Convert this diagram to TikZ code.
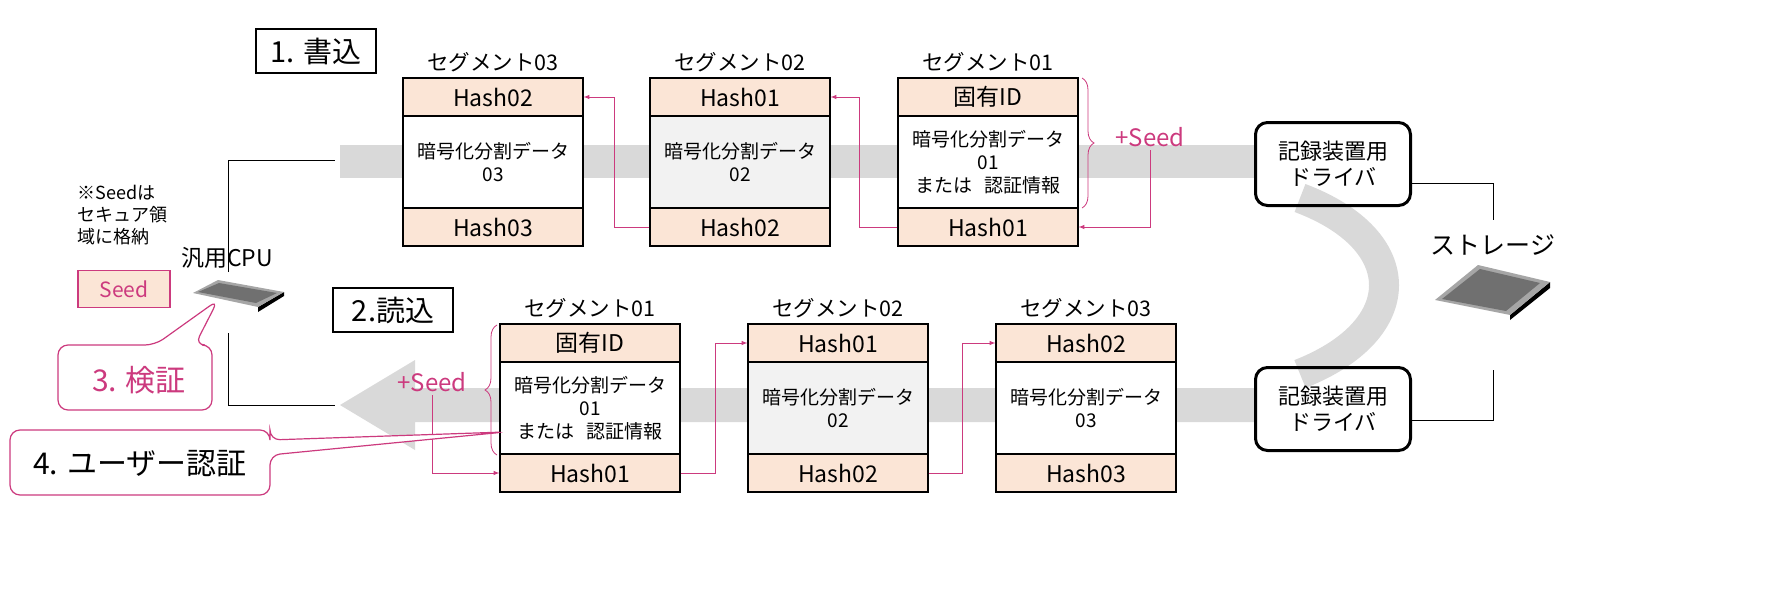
\documentclass[tikz,border=0pt]{standalone}
\usepackage{fontspec}
\setmainfont{Noto Sans CJK JP}
\usetikzlibrary{positioning, decorations.pathreplacing}

\definecolor{peach}{HTML}{FBE5D6}
\definecolor{rose}{HTML}{CC3A7E}
\definecolor{band}{HTML}{D9D9D9}
\definecolor{pale}{HTML}{F2F2F2}

\tikzset{
  cell/.style={draw=black, line width=1.2pt, minimum width=180pt, font=\fontsize{19}{23}\selectfont, inner sep=0pt, align=center},
  hashcell/.style={cell, fill=peach, minimum height=38pt, font=\fontsize{23}{25}\selectfont},
  datacell/.style={cell, fill=white, minimum height=92pt},
  title/.style={font=\fontsize{21.5}{24}\selectfont},
  phase/.style={draw=black, line width=1.5pt, minimum width=120pt, minimum height=44pt, font=\fontsize{29}{30}\selectfont},
  driver/.style={draw=black, line width=3pt, rounded corners=12pt, minimum width=155pt, minimum height=83pt, align=center, font=\fontsize{22}{26}\selectfont},
  link/.style={rose, line width=1pt, -latex},
  plus/.style={text=rose, font=\fontsize{24}{26}\selectfont},
  curly/.style={rose, line width=0.8pt, decorate, decoration={brace, amplitude=12pt}},
}

\begin{document}
\begin{tikzpicture}[x=1pt, y=-1pt]
\useasboundingbox (0,0) rectangle (1781,594);

% gray bands
\fill[band] (340,145) rectangle (1255,178);
\fill[band] (1255,388) -- (415,388) -- (415,360) -- (340,405) -- (415,450) -- (415,422) -- (1255,422) -- cycle;
\draw[band, line width=30pt] (1300,198) .. controls (1412,240) and (1412,330) .. (1300,374);

% write row
\node[phase] (write) at (316,51) {1. 書込};
\node[hashcell] (t3h) at (493,97) {Hash02};
\node[datacell] (t3d) at (493,162) {暗号化分割データ\\03};
\node[hashcell] (t3b) at (493,227) {Hash03};
\node[hashcell] (t2h) at (740,97) {Hash01};
\node[datacell, fill=pale] (t2d) at (740,162) {暗号化分割データ\\02};
\node[hashcell] (t2b) at (740,227) {Hash02};
\node[hashcell] (t1h) at (988,97) {固有ID};
\node[datacell] (t1d) at (988,162) {暗号化分割データ\\01\\または\ \ \ 認証情報};
\node[hashcell] (t1b) at (988,227) {Hash01};
\node[title, above=2pt of t3h] {セグメント03};
\node[title, above=2pt of t2h] {セグメント02};
\node[title, above=2pt of t1h] {セグメント01};

% read row
\node[phase] (read) at (393,310) {2.読込};
\node[hashcell] (b1h) at (590,343) {固有ID};
\node[datacell] (b1d) at (590,408) {暗号化分割データ\\01\\または\ \ \ 認証情報};
\node[hashcell] (b1b) at (590,473) {Hash01};
\node[hashcell] (b2h) at (838,343) {Hash01};
\node[datacell, fill=pale] (b2d) at (838,408) {暗号化分割データ\\02};
\node[hashcell] (b2b) at (838,473) {Hash02};
\node[hashcell] (b3h) at (1086,343) {Hash02};
\node[datacell] (b3d) at (1086,408) {暗号化分割データ\\03};
\node[hashcell] (b3b) at (1086,473) {Hash03};
\node[title, above=2pt of b1h] {セグメント01};
\node[title, above=2pt of b2h] {セグメント02};
\node[title, above=2pt of b3h] {セグメント03};

% hash chains
\node[plus] (seedT) at (1150,137) {+Seed};
\node[plus] (seedB) at (432,382) {+Seed};
\draw[curly] (1082,78) -- (1082,208);
\draw[curly] (497,455) -- (497,325);
\draw[link] (seedT.south) |- (t1b.east);
\draw[link] (t1b.west) -- ++(-38,0) |- (t2h.east);
\draw[link] (t2b.west) -- ++(-35,0) |- (t3h.east);
\draw[link] (seedB.south) |- (b1b.west);
\draw[link] (b1b.east) -- ++(35,0) |- (b2h.west);
\draw[link] (b2b.east) -- ++(34,0) |- (b3h.west);

% drivers and storage
\node[driver] (drvT) at (1333,164) {記録装置用\\ドライバ};
\node[driver] (drvB) at (1333,409) {記録装置用\\ドライバ};
\node[font=\fontsize{25}{27}\selectfont] (store) at (1493,245) {ストレージ};
\coordinate (stT) at (1493,220);
\coordinate (stB) at (1493,370);
\draw[line width=0.8pt] (drvT.east |- 0,183) -| (stT);
\draw[line width=0.8pt] (drvB.east |- 0,420) -| (stB);
\fill[black] (1510,315) -- (1550,282) -- (1550,288) -- (1510,320) -- cycle;
\fill[gray!70] (1435,300) -- (1478,265) -- (1550,282) -- (1510,315) -- cycle;
\fill[gray!40!black!70] (1442,299) -- (1480,269) -- (1540,283) -- (1506,311) -- cycle;

% cpu
\node[font=\fontsize{23}{25}\selectfont] (cpu) at (227,258) {汎用CPU};
\coordinate (cpuT) at (228,272);
\coordinate (cpuB) at (228,333);
\draw[line width=0.8pt] (cpuT) |- (335,160);
\draw[line width=0.8pt] (cpuB) |- (335,405);
\fill[black] (258,307) -- (284,292) -- (284,296) -- (258,312) -- cycle;
\fill[gray!70] (193,293) -- (218,280) -- (284,292) -- (258,307) -- cycle;
\fill[gray!40!black!70] (198,292) -- (219,283) -- (277,293) -- (256,303) -- cycle;

% seed note
\node[align=left, font=\fontsize{18}{22}\selectfont, anchor=north west] (note) at (74,182) {※Seedは\\セキュア領\\域に格納};
\node[draw=rose, line width=1.2pt, fill=peach, text=rose, minimum width=92pt, minimum height=37pt, font=\fontsize{21}{23}\selectfont] (seed) at (124,289) {Seed};

% callouts
\draw[rose, line width=1.2pt, rounded corners=10pt, fill=white] (58,345) -- (155,345) -- (218,300) -- (195,345) -- (212,345) -- (212,410) -- (58,410) -- cycle;
\node[text=rose, font=\fontsize{30}{32}\selectfont] (check) at (139,380) {3. 検証};
\draw[rose, line width=1.2pt, rounded corners=10pt, fill=white] (10,430) -- (270,430) -- (270,440) -- (505,432) -- (270,455) -- (270,495) -- (10,495) -- cycle;
\node[font=\fontsize{30}{32}\selectfont] (auth) at (140,464) {4. ユーザー認証};
\end{tikzpicture}
\end{document}
